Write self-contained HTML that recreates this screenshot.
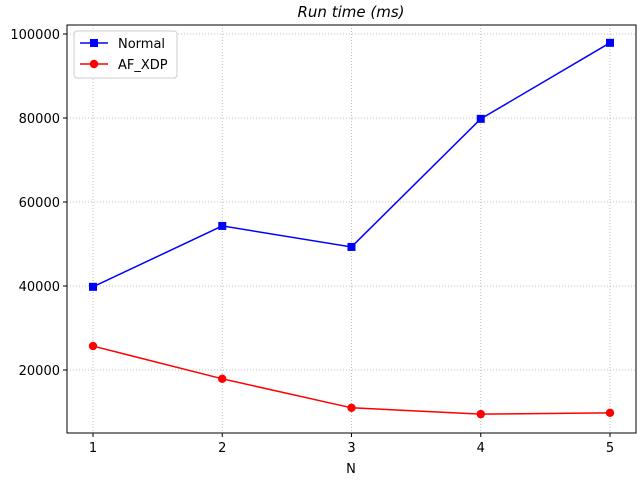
<!DOCTYPE html>
<html><head><meta charset="utf-8"><style>
body{margin:0;background:#fff;}
svg{display:block;font-family:"DejaVu Sans","Liberation Sans",sans-serif;}
</style></head><body>
<svg id="chart" width="640" height="480"></svg>
<script>
const categories=[1,2,3,4,5];
const normalValues=[39800,54300,49300,79800,97900];
const afxdpValues=[25700,17900,11000,9500,9800];
const yTicks=[20000,40000,60000,80000,100000];
const xTicks=[1,2,3,4,5];
const L=67,R=636,T=25,B=433;
const yMin=5000,yMax=102143;
function x(v){return 93+(v-1)*(610-93)/4;}
function y(v){return B-(v-yMin)*(B-T)/(yMax-yMin);}
const svg=document.getElementById('chart');
const NS='http://www.w3.org/2000/svg';
function mk(tag,attrs,parent){const e=document.createElementNS(NS,tag);for(const k in attrs)e.setAttribute(k,attrs[k]);(parent||svg).appendChild(e);return e;}
// grid
xTicks.forEach(t=>{const g=mk('line',{x1:x(t),x2:x(t),y1:T,y2:B,stroke:'#b0b0b0','stroke-width':0.8,'stroke-dasharray':'1,2'});

});
yTicks.forEach(t=>{const g=mk('line',{x1:L,x2:R,y1:y(t),y2:y(t),stroke:'#b0b0b0','stroke-width':0.8,'stroke-dasharray':'1,2'});

});
// ticks & labels
xTicks.forEach(t=>{mk('line',{x1:x(t),x2:x(t),y1:B,y2:B+4,stroke:'#000'});
const tx=mk('text',{x:x(t),y:B+19,'text-anchor':'middle','font-size':13});tx.textContent=t;

});
yTicks.forEach(t=>{mk('line',{x1:L-4,x2:L,y1:y(t),y2:y(t),stroke:'#000'});
const tx=mk('text',{x:L-7,y:y(t)+5,'text-anchor':'end','font-size':13});tx.textContent=t;

});
// series
function series(vals,color,marker,name){
const g=mk('g',{});


mk('polyline',{points:vals.map((v,i)=>x(categories[i])+','+y(v)).join(' '),fill:'none',stroke:color,'stroke-width':1.5},g);
vals.forEach((v,i)=>{let m;
if(marker==='s')m=mk('rect',{x:x(categories[i])-4,y:y(v)-4,width:8,height:8,fill:color},g);
else m=mk('circle',{cx:x(categories[i]),cy:y(v),r:4.2,fill:color},g);

});
}
series(normalValues,'#0000ff','s','normal-series');
series(afxdpValues,'#ff0000','o','af-xdp-series');
// frame
const fr=mk('rect',{x:L,y:T,width:R-L,height:B-T,fill:'none',stroke:'#000','stroke-width':1});


// title & axis label
const ti=mk('text',{x:351,y:17,'text-anchor':'middle','font-size':15,'font-style':'italic'});ti.textContent='Run time (ms)';


const xl=mk('text',{x:351,y:473,'text-anchor':'middle','font-size':13});xl.textContent='N';


// legend
const lg=mk('g',{});


mk('rect',{x:74,y:31,width:103,height:47,rx:3,fill:'#fff',stroke:'#ccc'},lg);
mk('line',{x1:80,x2:108,y1:43,y2:43,stroke:'#0000ff','stroke-width':1.5},lg);
mk('rect',{x:90,y:39,width:8,height:8,fill:'#0000ff'},lg);
const t1=mk('text',{x:118,y:48,'font-size':13},lg);t1.textContent='Normal';


mk('line',{x1:80,x2:108,y1:64,y2:64,stroke:'#ff0000','stroke-width':1.5},lg);
mk('circle',{cx:94,cy:64,r:4.2,fill:'#ff0000'},lg);
const t2=mk('text',{x:118,y:69,'font-size':13},lg);t2.textContent='AF_XDP';


</script>
</body></html>
